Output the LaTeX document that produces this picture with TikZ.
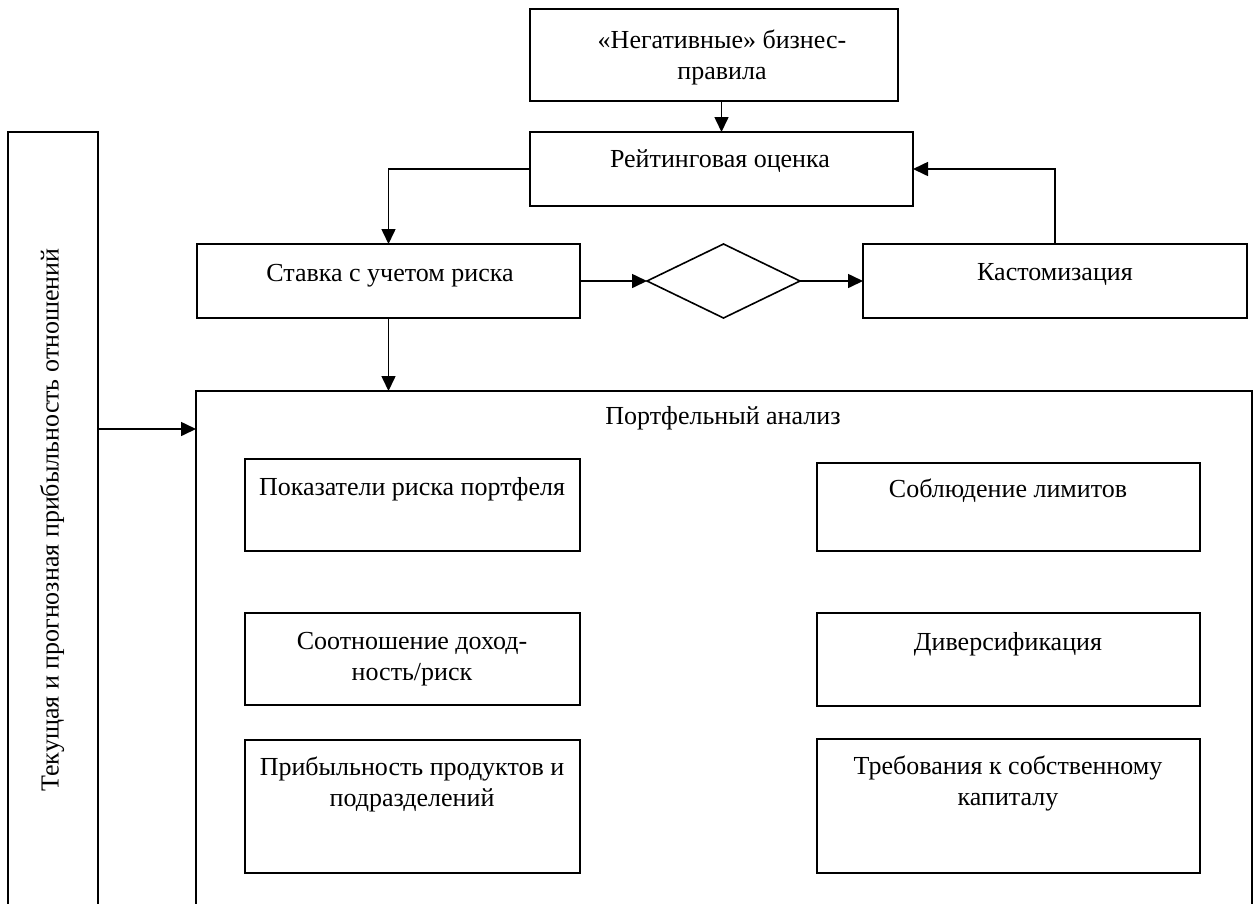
\documentclass[tikz,border=0pt]{standalone}
\usepackage{fontspec}
\setmainfont{Liberation Serif}
\usetikzlibrary{arrows.meta,shapes.geometric,calc}
\newcommand{\twolines}[2]{\begin{tabular}[t]{@{}c@{}}#1\\#2\end{tabular}}
\begin{document}
\begin{tikzpicture}[x=1pt,y=-1pt,
  blk/.style={draw, line width=1.6pt, inner sep=0pt, outer sep=0pt, anchor=north west},
  lbl/.style={font=\fontsize{26}{31}\selectfont, anchor=base, inner sep=0pt},
  conn/.style={-{Triangle[length=15pt,width=14pt]}, line width=1.6pt}
]
\useasboundingbox (0,0) rectangle (1253,903);
\clip (0,0) rectangle (1253,903);

% upper chain
\node[blk, minimum width=368pt, minimum height=92pt] (neg) at (530,9) {};
\node[blk, minimum width=383pt, minimum height=74pt] (rating) at (530,132) {};
\node[blk, minimum width=383pt, minimum height=74pt] (stavka) at (197,244) {};
\node[draw, line width=1.6pt, shape=diamond, inner sep=0pt, outer sep=0pt,
      minimum width=153pt, minimum height=74pt] (dia) at (723.5,281) {};
\node[blk, minimum width=384pt, minimum height=74pt] (kast) at (863,244) {};

% side column and portfolio frame
\node[blk, minimum width=90pt, minimum height=800pt] (side) at (8,132) {};
\node[blk, minimum width=1056pt, minimum height=560pt] (port) at (196,391) {};

% inner boxes
\node[blk, minimum width=335pt, minimum height=92pt] (risk) at (245,459) {};
\node[blk, minimum width=383pt, minimum height=88pt] (limits) at (817,463) {};
\node[blk, minimum width=335pt, minimum height=92pt] (ratio) at (245,613) {};
\node[blk, minimum width=383pt, minimum height=93pt] (divers) at (817,613) {};
\node[blk, minimum width=335pt, minimum height=133pt] (profit) at (245,740) {};
\node[blk, minimum width=383pt, minimum height=134pt] (capital) at (817,739) {};

% texts
\node[lbl] (neg-t) at (722,48) {\twolines{«Негативные» бизнес-}{правила}};
\node[lbl] (rating-t) at (720,167) {Рейтинговая оценка};
\node[lbl] (stavka-t) at (390,281) {Ставка с учетом риска};
\node[lbl] (kast-t) at (1055,280) {Кастомизация};
\node[lbl] (port-t) at (723,424) {Портфельный анализ};
\node[lbl] (risk-t) at (412,495) {Показатели риска портфеля};
\node[lbl] (limits-t) at (1008,497) {Соблюдение лимитов};
\node[lbl] (ratio-t) at (412,649) {\twolines{Соотношение доход-}{ность/риск}};
\node[lbl] (divers-t) at (1008,650) {Диверсификация};
\node[lbl] (profit-t) at (412,775) {\twolines{Прибыльность продуктов и}{подразделений}};
\node[lbl] (capital-t) at (1008,774) {\twolines{Требования к собственному}{капиталу}};
\node[font=\fontsize{26}{31}\selectfont, inner sep=0pt, rotate=90] (side-t) at (52,520)
  {Текущая и прогнозная прибыльность отношений};

% connectors
\coordinate (jy) at (0,429);
\draw[conn] (neg.south -| rating.north) -- (rating.north);
\draw[conn] (rating.west) -| (stavka.north);
\draw[conn] (kast.north) |- (rating.east);
\draw[conn] (stavka.east) -- (dia.west);
\draw[conn] (dia.east) -- (kast.west);
\draw[conn] (stavka.south) -- (stavka.south |- port.north);
\draw[conn] (side.east |- jy) -- (port.west |- jy);
\end{tikzpicture}
\end{document}
